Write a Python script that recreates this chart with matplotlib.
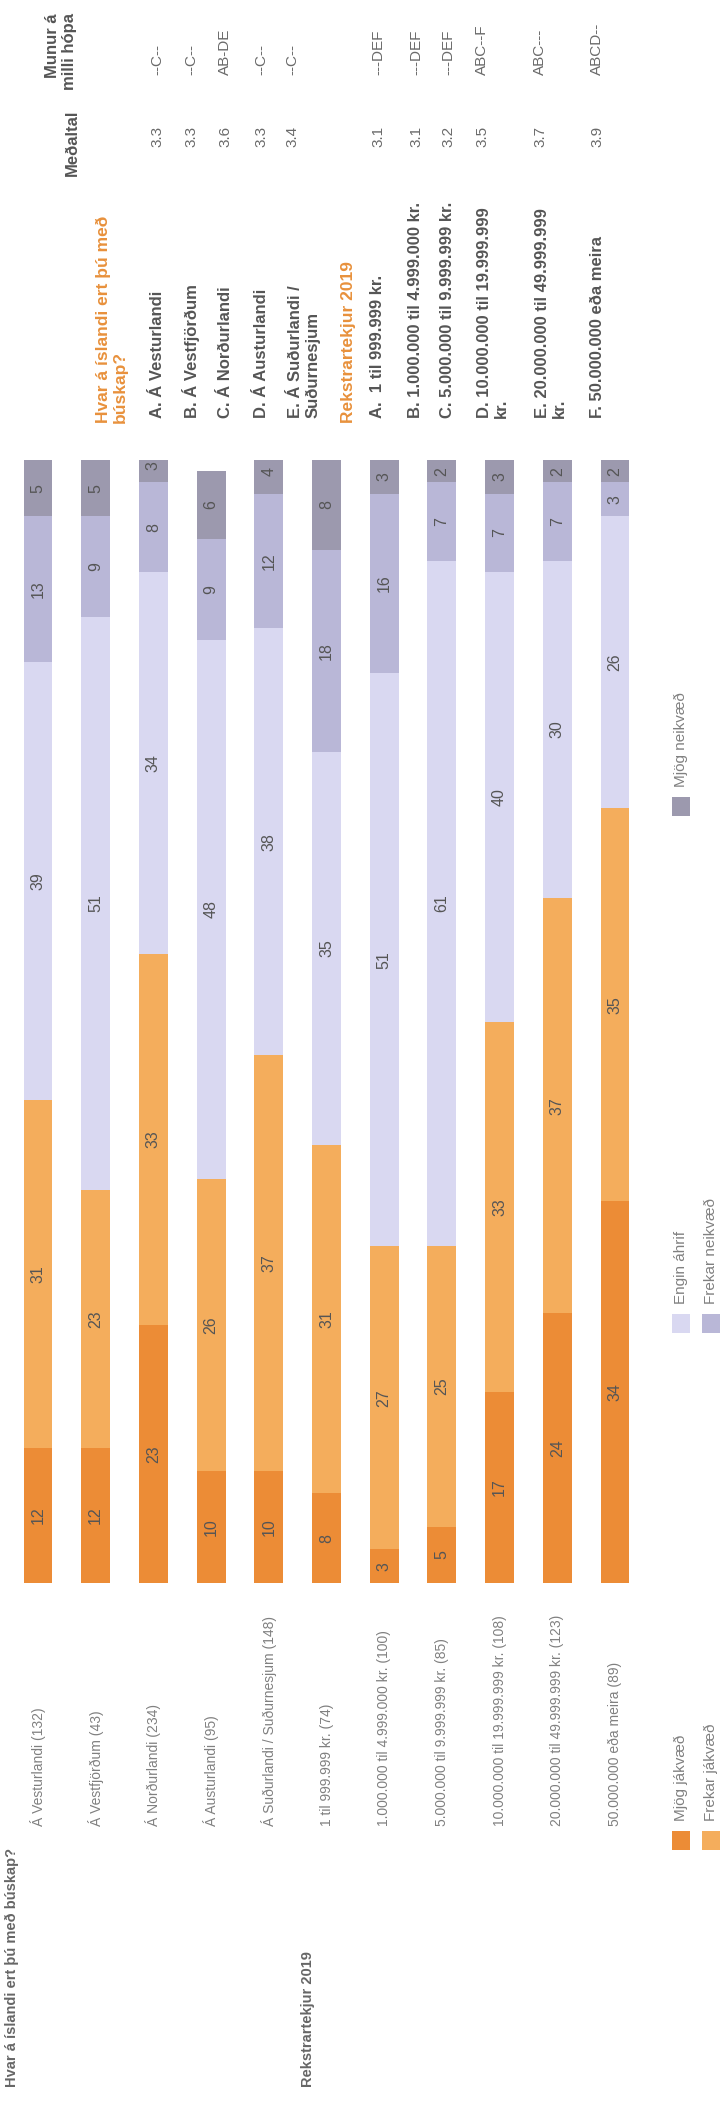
import matplotlib
matplotlib.use("Agg")
import matplotlib.pyplot as plt
from matplotlib.patches import Rectangle
import numpy as np

plt.rcParams['font.family'] = ['Liberation Sans', 'DejaVu Sans']

# data, rows in chart order
row_labels = [
    "Á Vesturlandi (132)", "Á Vestfjörðum (43)", "Á Norðurlandi (234)",
    "Á Austurlandi (95)", "Á Suðurlandi / Suðurnesjum (148)",
    "1 til 999.999 kr. (74)", "1.000.000 til 4.999.000 kr. (100)",
    "5.000.000 til 9.999.999 kr. (85)", "10.000.000 til 19.999.999 kr. (108)",
    "20.000.000 til 49.999.999 kr. (123)", "50.000.000 eða meira (89)",
]
series_names = ["Mjög jákvæð", "Frekar jákvæð", "Engin áhrif", "Frekar neikvæð", "Mjög neikvæð"]
mjog_jakv = [12, 12, 23, 10, 10, 8, 3, 5, 17, 24, 34]
frekar_jakv = [31, 23, 33, 26, 37, 31, 27, 25, 33, 37, 35]
engin = [39, 51, 34, 48, 38, 35, 51, 61, 40, 30, 26]
frekar_neikv = [13, 9, 8, 9, 12, 18, 16, 7, 7, 7, 3]
mjog_neikv = [5, 5, 3, 6, 4, 8, 3, 2, 3, 2, 2]
colors = ["#EC8C36", "#F4AD5C", "#D9D8F1", "#B9B7D7", "#9C99AE"]

group_titles = ["Hvar á íslandi ert þú með búskap?", "Rekstrartekjur 2019"]

table_labels = [
    "A. Á Vesturlandi", "B. Á Vestfjörðum", "C. Á Norðurlandi", "D. Á Austurlandi",
    "E. Á Suðurlandi /\nSuðurnesjum",
    "A.  1 til 999.999 kr.", "B. 1.000.000 til 4.999.000 kr.",
    "C. 5.000.000 til 9.999.999 kr.", "D. 10.000.000 til 19.999.999\nkr.",
    "E. 20.000.000 til 49.999.999\nkr.", "F. 50.000.000 eða meira",
]
means = [3.3, 3.3, 3.6, 3.3, 3.4, 3.1, 3.1, 3.2, 3.5, 3.7, 3.9]
munur = ["--C--", "--C--", "AB-DE", "--C--", "--C--",
         "---DEF", "---DEF", "---DEF", "ABC--F", "ABC---", "ABCD--"]

W, H = 721, 2103
fig = plt.figure(figsize=(W / 100, H / 100), dpi=100)

# bar axes (chart is rotated: bars grow upward)
x0, x1 = 9.15, 643.85
y0, y1 = 1583, 460
ax = fig.add_axes([x0 / W, (H - y0) / H, (x1 - x0) / W, (y0 - y1) / H])
ax.set_xlim(-0.5, len(row_labels) - 0.5)
ax.set_ylim(0, 100)
ax.axis('off')

data = [mjog_jakv, frekar_jakv, engin, frekar_neikv, mjog_neikv]
xs = np.arange(len(row_labels))
bottom = np.zeros(len(row_labels))
for vals, col in zip(data, colors):
    vals = np.array(vals, dtype=float)
    ax.bar(xs, vals, bottom=bottom, width=0.5, color=col, linewidth=0)
    for x, b, v in zip(xs, bottom, vals):
        ax.text(x, b + v / 2, f"{int(v)}", rotation=90, rotation_mode='anchor',
                ha='center', va='center', fontsize=11.5, color='#555555')
    bottom += vals

# overlay in pixel coords for texts and legend
ov = fig.add_axes([0, 0, 1, 1], zorder=5)
ov.set_xlim(0, W)
ov.set_ylim(H, 0)
ov.axis('off')
ov.patch.set_alpha(0)


def txt(x, y, s, ha='left', **kw):
    ov.text(x, y, s, rotation=90, rotation_mode='anchor', ha=ha, va='center', **kw)


# row labels under bars
row_x = [38 + i * 57.7 for i in range(len(row_labels))]
for x, lab in zip(row_x, row_labels):
    txt(x, 1826, lab, fontsize=10, color='#808080')
txt(12, 2087, group_titles[0], fontsize=10.5, fontweight='bold', color='#666666')
txt(308, 2087, group_titles[1], fontsize=10.5, fontweight='bold', color='#666666')

# table at the top
txt(61, 13, "Munur á\nmilli hópa", ha='right', fontsize=12, fontweight='bold',
    color='#555555', multialignment='right')
txt(72, 110, "Meðaltal", ha='right', fontsize=12, fontweight='bold', color='#555555')
txt(112, 423, "Hvar á íslandi ert þú með\nbúskap?", fontsize=12.5, fontweight='bold',
    color='#E8913C')
txt(348, 423, "Rekstrartekjur 2019", fontsize=12.5, fontweight='bold', color='#E8913C')

table_x = [157, 191, 225, 261, 304, 378, 416, 448, 493, 551, 597]
line1_x = [157, 191, 225, 261, 292, 378, 416, 448, 482, 540, 597]
for tx, lx, lab, m, mu in zip(table_x, line1_x, table_labels, means, munur):
    txt(tx, 418, lab, fontsize=12, fontweight='bold', color='#555555')
    txt(lx, 147, f"{m:.1f}", fontsize=11, color='#6a6a6a')
    txt(lx, 75, mu, fontsize=11, color='#6a6a6a')

# legend
legend_pos = [(681, 1850), (711, 1850), (681, 1333), (711, 1333), (681, 816)]
for (lx, ly), name, col in zip(legend_pos, series_names, colors):
    ov.add_patch(Rectangle((lx - 9, ly - 19), 18, 19, color=col, linewidth=0))
    txt(lx, ly - 29, name, fontsize=11, color='#808080')

fig.savefig("out.png", dpi=100, facecolor='white')
